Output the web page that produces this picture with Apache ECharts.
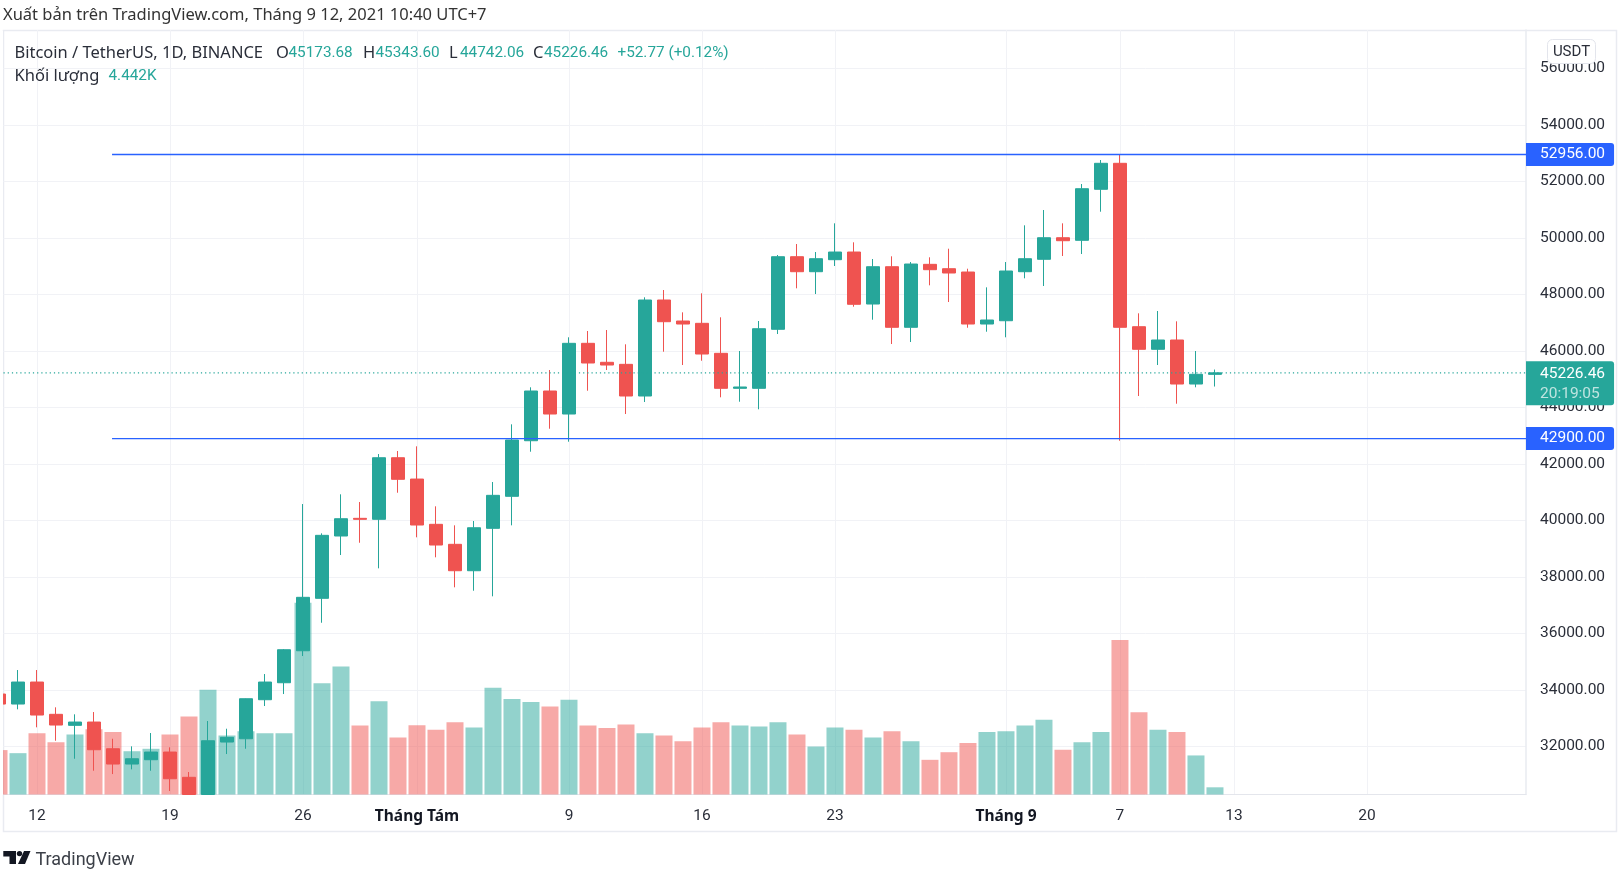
<!DOCTYPE html>
<html>
<head>
<meta charset="utf-8">
<title>BTCUSDT</title>
<script src="https://cdn.jsdelivr.net/npm/echarts@6/dist/echarts.min.js"></script>
<style>
html, body { margin: 0; padding: 0; background: #fff; }
#chart_btc { width: 1622px; height: 882px; }
</style>
</head>
<body>
<div id="chart_btc"></div>
<script>
// day 0 = 12 Jul, first candle is day -2 and is cut by the left edge
var firstDay = -2;
// days 8 and 9 run off the bottom of the price scale, they stop at the axis minimum here
var openPrices = [33857,33503,34282,33139,32749,32866,31921,31379,31532,31804,30909,30301,32158,32275,33656,34257,35390,37245,39451,40077,40042,42222,41467,39865,39157,38222,39723,40856,42824,44584,43769,46272,45600,45528,44407,47805,47061,46980,45918,44679,44679,46768,49338,48807,49232,49504,47663,48984,46839,49068,48913,48796,46955,47072,48807,49246,50010,49918,51724,52644,46860,46060,46389,44831,45173.68];
var closePrices = [33503,34282,33114,32760,32866,31886,31379,31567,31804,30859,30301,32204,32324,33691,34282,35426,37281,39475,40063,40042,42222,41458,39840,39132,38222,39744,40891,42849,44584,43769,46272,45575,45504,44407,47805,47037,46955,45893,44679,44726,46789,49338,48807,49267,49504,47653,48984,46839,49079,48878,48761,46955,47097,48832,49267,50010,49904,51745,52644,46839,46060,46389,44831,45175,45226.46];
var lowPrices = [33503,33316,32679,32204,31567,31142,31025,31192,31142,30424,30301,30301,31733,31921,33433,33857,35203,36381,38778,39213,38307,40983,39405,38697,37635,37514,37316,39829,42435,43249,42789,44594,45327,43769,44194,45975,45504,45656,44361,44205,43936,46601,48219,48017,49009,47568,47108,46247,46318,48325,47734,46824,46683,46485,48573,48301,49363,49433,50931,42824,44407,45504,44134,44715,44742.06];
var highPrices = [33857,34707,34707,33387,33139,33220,32275,32006,32477,31971,31096,32902,32629,33700,34565,35450,40583,39546,40927,40654,42353,42460,42626,40502,39829,39982,41362,43405,44715,45327,46485,46708,46743,46237,47901,48159,47369,48042,47193,46000,47062,49398,49787,49504,50520,49848,49256,49352,49150,49317,49621,48913,48254,49150,50449,50991,50520,51911,52761,52956,47334,47416,47051,46000,45343.6];
var volumes = [27.4,25.5,37.8,32.3,37,40.3,38.5,26.7,28.2,37,48.1,64.6,36.4,39.1,37.8,37.8,118.3,68.7,79,42.6,57.6,35.2,42.8,39.9,44.6,41.3,65.8,59,57,54.3,58.4,42.6,41.1,43.2,37.8,36.4,32.9,41.3,44.6,42.6,42,44.6,37,29.6,41.3,39.9,35.2,39.1,32.9,21.4,26.1,31.7,38.5,39.1,42.6,46.1,27.6,32.3,38.5,95.4,50.8,39.9,38.5,24.1,4.442];
var tickDays = [0,7,14,20,28,35,42,51,57,63,70];
var tickLabels = ['12','19','26','Tháng Tám','9','16','23','Tháng 9','7','13','20'];
var priceTicks = [32000,34000,36000,38000,40000,42000,44000,46000,48000,50000,52000,54000,56000];
var levelPrices = [52956,42900];
var levelStartDay = 3.95;
var lastPrice = 45226.46;
var countdown = '20:19:05';

var FONT = 'Roboto, sans-serif';
var TEXT_FONT = '"Noto Sans", sans-serif';
var UP = '#26a69a', DOWN = '#ef5350', BLUE = '#2962ff', INK = '#2a2e39', FRAME = '#e9ebf1', GRID = '#f1f2f6';
var xMin = -1.763, xMax = 78.37;

var candleData = [], volumeData = [];
for (var i = 0; i < openPrices.length; i++) {
    var day = firstDay + i;
    candleData.push([day, openPrices[i], closePrices[i], lowPrices[i], highPrices[i]]);
    volumeData.push({
        value: [day, volumes[i]],
        itemStyle: { color: closePrices[i] >= openPrices[i] ? 'rgba(38,166,154,0.5)' : 'rgba(239,83,80,0.5)' }
    });
}

function headerText(x, y, str, color) {
    return { type: 'text', x: x, y: y, z: 50, style: { text: str, fill: color, font: '16.5px ' + TEXT_FONT, textVerticalAlign: 'middle' } };
}
function headerValue(x, y, str) {
    return { type: 'text', x: x, y: y, z: 50, style: { text: str, fill: UP, font: '15.3px ' + FONT, textVerticalAlign: 'middle' } };
}

function levelSeries(price) {
    return {
        type: 'line', xAxisIndex: 0, yAxisIndex: 0, z: 6, silent: true, showSymbol: false,
        data: [[levelStartDay, price], [xMax, price]],
        lineStyle: { color: BLUE, width: 1.4 },
        endLabel: {
            show: true, distance: 0, color: '#fff', backgroundColor: BLUE,
            fontFamily: FONT, fontSize: 15.5, lineHeight: 17,
            padding: [5, 9, 1, 14], borderRadius: [0, 3, 3, 0],
            formatter: function (p) { return p.value[1].toFixed(2); }
        }
    };
}

var graphics = [
    { type: 'rect', z: -1, shape: { x: 3.5, y: 30.5, width: 1613, height: 801 }, style: { fill: 'none', stroke: FRAME, lineWidth: 1.5 } },
    // cut the first candle at the left edge of the pane
    { type: 'rect', z: 40, shape: { x: 0, y: 31, width: 3, height: 764 }, style: { fill: '#fff' } },
    { type: 'text', x: 3, y: 15.5, style: { text: 'Xuất bản trên TradingView.com, Tháng 9 12, 2021 10:40 UTC+7', fill: '#333', font: '16.5px ' + TEXT_FONT, textVerticalAlign: 'middle' } },
    headerText(14.5, 53, 'Bitcoin / TetherUS, 1D, BINANCE', INK),
    headerText(276, 53, 'O', INK), headerValue(288.5, 53, '45173.68'),
    headerText(363, 53, 'H', INK), headerValue(375.5, 53, '45343.60'),
    headerText(449, 53, 'L', INK), headerValue(460, 53, '44742.06'),
    headerText(533, 53, 'C', INK), headerValue(544, 53, '45226.46'),
    headerValue(617.5, 53, '+52.77 (+0.12%)'),
    headerText(14.5, 76.5, 'Khối lượng', INK), headerValue(108.5, 76.5, '4.442K'),
    { type: 'rect', z: 60, shape: { x: 1547.5, y: 39.5, width: 48, height: 24, r: 5 }, style: { fill: '#fff', stroke: '#e3e5ec', lineWidth: 1 } },
    { type: 'text', z: 61, x: 1571.5, y: 52, style: { text: 'USDT', fill: INK, font: '15px ' + FONT, textAlign: 'center', textVerticalAlign: 'middle' } },
    // logo
    { type: 'polygon', shape: { points: [[3.3,851],[16,851],[16,864],[9.5,864],[9.5,856.5],[3.3,856.5]] }, style: { fill: '#131722' } },
    { type: 'circle', shape: { cx: 19.5, cy: 853.6, r: 2.7 }, style: { fill: '#131722' } },
    { type: 'polygon', shape: { points: [[24,851],[30.5,851],[25,864],[18,864]] }, style: { fill: '#131722' } },
    { type: 'text', x: 35.5, y: 860.5, style: { text: 'TradingView', fill: '#3c4048', font: '18px ' + FONT, textVerticalAlign: 'middle' } }
];

var myChart = echarts.init(document.getElementById('chart_btc'));
var option = {
    animation: false,
    backgroundColor: '#fff',
    grid: { left: 3.5, top: 30, width: 1522.5, height: 764.5 },
    graphic: graphics,
    xAxis: {
        type: 'value', min: xMin, max: xMax,
        axisLine: { show: true, onZero: false, lineStyle: { color: '#e4e6ec', width: 1 } },
        axisTick: { show: false, customValues: tickDays },
        splitLine: { show: true, lineStyle: { color: GRID, width: 1 } },
        axisLabel: {
            customValues: tickDays, margin: 12, color: INK, fontFamily: FONT, fontSize: 15.5, padding: [2, 0, 0, 0],
            formatter: function (v) {
                var str = tickLabels[tickDays.indexOf(v)];
                return str.indexOf('Tháng') === 0 ? '{month|' + str + '}' : str;
            },
            rich: { month: { fontFamily: TEXT_FONT, fontSize: 15.5, fontWeight: 'bold', color: '#131722' } }
        }
    },
    yAxis: [
        {
            type: 'value', position: 'right', min: 30301, max: 57363, scale: true,
            axisLine: { show: true, onZero: false, lineStyle: { color: FRAME, width: 1.5 } },
            axisTick: { show: false, customValues: priceTicks },
            splitLine: { show: true, lineStyle: { color: GRID, width: 1 } },
            axisLabel: {
                customValues: priceTicks, margin: 14, color: INK, fontFamily: FONT, fontSize: 15.5, padding: [4, 0, 0, 0],
                formatter: function (v) { return v.toFixed(2); }
            }
        },
        { type: 'value', show: false, min: 0, max: 471.7, splitLine: { show: false } }
    ],
    series: [
        { type: 'bar', name: 'Khối lượng', yAxisIndex: 1, barWidth: 17, z: 2, silent: true, data: volumeData },
        {
            type: 'candlestick', name: 'BTCUSDT', yAxisIndex: 0, z: 3, silent: true,
            barWidth: 14,
            encode: { x: 0, y: [1, 2, 3, 4] },
            itemStyle: { color: UP, color0: DOWN, borderColor: UP, borderColor0: DOWN, borderWidth: 1 },
            data: candleData
        },
        {
            type: 'line', yAxisIndex: 0, z: 5, silent: true, showSymbol: false,
            data: [[xMin, lastPrice], [xMax, lastPrice]],
            lineStyle: { color: UP, width: 1.2, type: [1.2, 3] },
            endLabel: {
                show: true, distance: 0, offset: [0, 10.5], backgroundColor: UP,
                padding: [3, 9, 1, 14], borderRadius: [0, 3, 3, 0],
                formatter: function () { return '{a|' + lastPrice.toFixed(2) + '}\n{b|' + countdown + '}'; },
                rich: {
                    a: { color: '#fff', fontFamily: FONT, fontSize: 15.5, lineHeight: 20 },
                    b: { color: '#bfe4e0', fontFamily: FONT, fontSize: 15.5, lineHeight: 20 }
                }
            }
        },
        levelSeries(levelPrices[0]),
        levelSeries(levelPrices[1])
    ]
};
myChart.setOption(option);
</script>
</body>
</html>
